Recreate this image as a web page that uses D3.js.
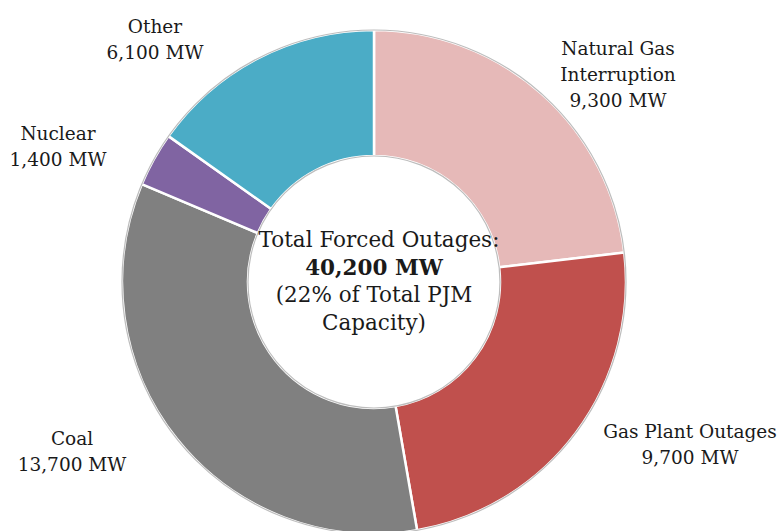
<!DOCTYPE html>
<html>
<head>
<meta charset="utf-8">
<script src="https://cdn.jsdelivr.net/npm/d3@7"></script>
<style>
  html, body { margin: 0; padding: 0; background: #fff; }
  svg { display: block; }
  text { font-family: "DejaVu Serif", serif; fill: #1a1a1a; }
</style>
</head>
<body>
<svg id="chart" width="783" height="531"></svg>
<script>
// Forced outage breakdown (MW), clockwise from 12 o'clock
const categories = ["Natural Gas Interruption", "Gas Plant Outages", "Coal", "Nuclear", "Other"];
const values = [9300, 9700, 13700, 1400, 6100];
const colors = ["#E6B9B8", "#C0504D", "#808080", "#8064A2", "#4BACC6"];
const labelLines = [
  ["Natural Gas", "Interruption", "9,300 MW"],
  ["Gas Plant Outages", "9,700 MW"],
  ["Coal", "13,700 MW"],
  ["Nuclear", "1,400 MW"],
  ["Other", "6,100 MW"]
];
const labelPos = [[618, 55], [690, 438], [72, 445], [58, 140], [155, 33]];
const centerLines = ["Total Forced Outages:", "40,200 MW", "(22% of Total PJM", "Capacity)"];
const centerShift = [5, 0, 0, 0];

const svg = d3.select("#chart");
const cx = 374, cy = 282, outerR = 252, innerR = 126;

const g = svg.append("g").attr("transform", `translate(${cx},${cy})`);

const pie = d3.pie().sort(null).value(d => d)(values);
const arc = d3.arc().innerRadius(innerR).outerRadius(outerR);

g.selectAll("path.slice")
  .data(pie)
  .join("path")
  .attr("class", "slice")
  .attr("d", arc)
  .attr("fill", (d, i) => colors[i])
  .attr("stroke", "#fff")
  .attr("stroke-width", 2.5);

// thin grey rims on the ring
g.append("circle").attr("r", outerR).attr("fill", "none").attr("stroke", "#bdbdbd").attr("stroke-width", 1.2);
g.append("circle").attr("r", innerR).attr("fill", "none").attr("stroke", "#bdbdbd").attr("stroke-width", 1.2);

// category labels
labelLines.forEach((lines, i) => {
  const t = svg.append("text")
    .attr("x", labelPos[i][0])
    .attr("y", labelPos[i][1])
    .attr("text-anchor", "middle")
    .style("font-size", "18.5px");
  lines.forEach((ln, j) => {
    t.append("tspan").attr("x", labelPos[i][0]).attr("dy", j === 0 ? 0 : 26).text(ln);
  });
});

// center annotation
const ct = svg.append("text")
  .attr("x", cx)
  .attr("y", 247)
  .attr("text-anchor", "middle")
  .style("font-size", "21.5px");
centerLines.forEach((ln, j) => {
  ct.append("tspan")
    .attr("x", cx + centerShift[j])
    .attr("dy", j === 0 ? 0 : 27.5)
    .style("font-weight", j === 1 ? "bold" : "normal")
    .text(ln);
});
</script>
</body>
</html>
